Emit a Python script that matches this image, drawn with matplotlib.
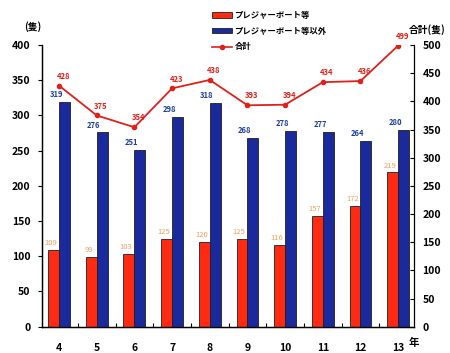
import matplotlib
matplotlib.use("Agg")
import matplotlib.pyplot as plt
from matplotlib.patches import Patch
from matplotlib.lines import Line2D
import numpy as np

plt.rcParams['font.family'] = ['Noto Sans CJK JP', 'DejaVu Sans']

years = ['4', '5', '6', '7', '8', '9', '10', '11', '12', '13']
pleasure = [109, 99, 103, 125, 120, 125, 116, 157, 172, 219]
others = [319, 276, 251, 298, 318, 268, 278, 277, 264, 280]
total = [428, 375, 354, 423, 438, 393, 394, 434, 436, 499]

red = '#ff2a12'
blue = '#1a2a9c'
line_c = '#e0201a'
orange = '#f0a060'
dblue = '#1f3f9f'

fig = plt.figure(figsize=(4.5, 3.53), dpi=100)
ax = fig.add_axes([41.7/450, 1-326.7/353, (414-41.7)/450, (326.7-45)/353])
ax2 = ax.twinx()

x = np.arange(len(years))
w = 0.29
ax.bar(x - w/2, pleasure, w, color=red, edgecolor='#202020', linewidth=0.6, zorder=2)
ax.bar(x + w/2, others, w, color=blue, edgecolor='#202020', linewidth=0.6, zorder=3)
ax2.plot(x, total, color=line_c, lw=1.3, marker='o', ms=3, zorder=4)

for i in range(len(x)):
    ax.annotate(str(pleasure[i]), (x[i] - w/2, pleasure[i]), xytext=(-2, 2),
                textcoords='offset points', ha='center', va='bottom',
                fontsize=5.5, color=orange, zorder=2.5)
    ax.annotate(str(others[i]), (x[i] + w/2, others[i]), xytext=(-6, 2),
                textcoords='offset points', ha='center', va='bottom',
                fontsize=5.5, color=dblue, fontweight='bold', zorder=4)
    ax2.annotate(str(total[i]), (x[i], total[i]), xytext=(3, 3.5),
                 textcoords='offset points', ha='center', va='bottom',
                 fontsize=5.5, color=line_c, fontweight='bold')

ax.set_xlim(-0.46, 9.42)
ax.set_ylim(0, 400)
ax2.set_ylim(0, 500)
ax.set_yticks(np.arange(0, 401, 50))
ax2.set_yticks(np.arange(0, 501, 50))
ax.set_xticks(x)
ax.set_xticklabels(years)
ax.set_xticks(x[:-1] + 0.5, minor=True)
ax.tick_params(axis='x', which='major', length=0, pad=12, labelsize=7.5)
ax.tick_params(axis='x', which='minor', length=3, direction='in', width=0.8)
ax.tick_params(axis='y', length=3, width=0.8, labelsize=7.5, pad=5)
ax2.tick_params(axis='y', length=3, width=0.8, direction='in', labelsize=7.5, pad=6)
for lab in ax.get_xticklabels() + ax.get_yticklabels() + ax2.get_yticklabels():
    lab.set_fontweight('bold')

for a in (ax, ax2):
    a.spines['top'].set_visible(False)
    for s in ('left', 'right', 'bottom'):
        a.spines[s].set_linewidth(0.9)
ax.spines['right'].set_visible(False)

fig.text(33/450, 1-27/353, '(隻)', ha='center', va='center', fontsize=7, fontweight='bold')
fig.text(427/450, 1-30/353, '合計(隻)', ha='center', va='center', fontsize=7, fontweight='bold')
fig.text(414/450, 1-343/353, '年', ha='center', va='center', fontsize=7.5, fontweight='bold')

handles = [Patch(facecolor=red, edgecolor='#202020', linewidth=0.6),
           Patch(facecolor=blue, edgecolor='#202020', linewidth=0.6),
           Line2D([0], [0], color=line_c, lw=1.2, marker='o', ms=3)]
labels = ['プレジャーボート等', 'プレジャーボート等以外', '合計']
leg = fig.legend(handles, labels, loc='upper left', bbox_to_anchor=(212/450, 1-11/353),
                 frameon=False, prop={'size': 6, 'weight': 'bold'},
                 handlelength=2.4, handleheight=0.6, labelspacing=0.8, handletextpad=0.3,
                 borderaxespad=0, borderpad=0)

fig.savefig('out.png', dpi=100, facecolor='white')
